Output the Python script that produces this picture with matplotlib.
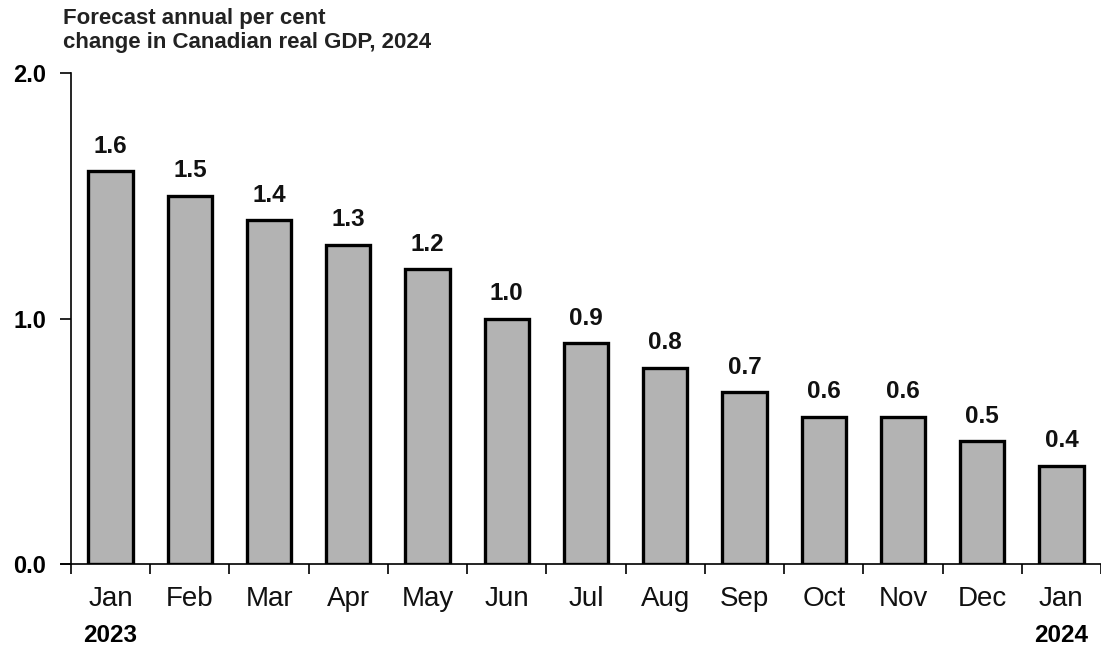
import numpy as np
import matplotlib.pyplot as plt

# data
months = ['Jan', 'Feb', 'Mar', 'Apr', 'May', 'Jun', 'Jul',
          'Aug', 'Sep', 'Oct', 'Nov', 'Dec', 'Jan']
gdp_forecast = [1.6, 1.5, 1.4, 1.3, 1.2, 1.0, 0.9, 0.8, 0.7, 0.6, 0.6, 0.5, 0.4]
value_labels = ['1.6', '1.5', '1.4', '1.3', '1.2', '1.0', '0.9',
                '0.8', '0.7', '0.6', '0.6', '0.5', '0.4']
years = ['2023', '2024']
title = 'Forecast annual per cent\nchange in Canadian real GDP, 2024'

plt.rcParams['font.family'] = ['Liberation Sans', 'DejaVu Sans']

fig = plt.figure(figsize=(11.01, 6.49), dpi=100)
ax = fig.add_axes([71/1101, 1 - 564/649, 1 - 71/1101, (564 - 73)/649])

x = np.arange(len(months))
ax.bar(x, gdp_forecast, width=0.56, color='#b3b3b3', edgecolor='black',
       linewidth=2.4, zorder=3)

for xi, v, lab in zip(x, gdp_forecast, value_labels):
    ax.text(xi, v + 0.055, lab, ha='center', va='bottom',
            fontsize=17.5, fontweight='bold', color='#111111')

ax.set_xlim(-0.5, len(months) - 0.5)
ax.set_ylim(0, 2.0)

# y axis
ax.set_yticks([0, 1, 2])
ax.set_yticklabels(['0.0', '1.0', '2.0'], fontsize=17, fontweight='bold')
ax.tick_params(axis='y', direction='out', length=8, width=1.2, pad=10)

# x axis: ticks between categories, labels at centres
ax.set_xticks(np.arange(-0.5, len(months), 1.0))
ax.set_xticklabels([])
ax.tick_params(axis='x', which='major', direction='out', length=7, width=1.2)
ax.set_xticks(x, minor=True)
ax.set_xticklabels(months, minor=True, fontsize=20, color='#111111')
ax.tick_params(axis='x', which='minor', length=0, pad=16)

for s in ['top', 'right']:
    ax.spines[s].set_visible(False)
ax.spines['left'].set_linewidth(1.2)
ax.spines['bottom'].set_linewidth(1.2)
ax.spines['bottom'].set_bounds(-0.62, len(months) - 0.5)
ax.spines['bottom'].set_clip_on(False)

# year labels
ax.text(0, -0.29, years[0], ha='center', va='center',
        fontsize=17.5, fontweight='bold')
ax.text(len(months) - 1, -0.29, years[1], ha='center', va='center',
        fontsize=17.5, fontweight='bold')

fig.text(63/1101, 1 - 8/649, title, ha='left', va='top',
         fontsize=16, fontweight='bold', color='#222222', linespacing=1.2)

fig.savefig('out.png', dpi=100)
